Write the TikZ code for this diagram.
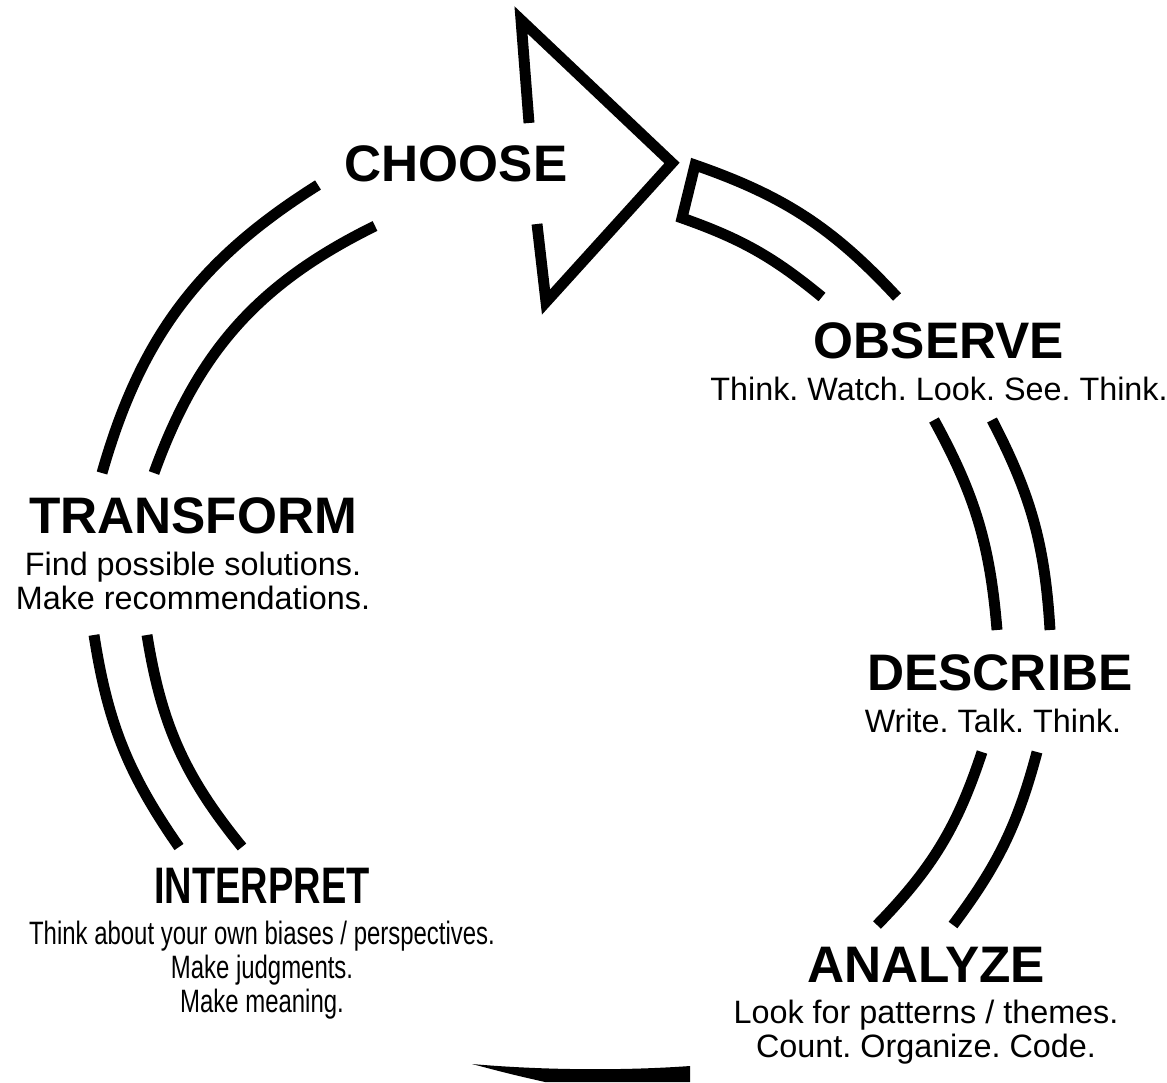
\documentclass[tikz,border=0pt]{standalone}
\usepackage{fontspec}
\setmainfont{Liberation Sans}
\newfontfamily\narrowsf[FakeStretch=0.74]{Liberation Sans}
\usetikzlibrary{positioning}
\frenchspacing

\begin{document}
\begin{tikzpicture}[x=0.01cm, y=0.01cm,
  head/.style={inner sep=0pt, font=\fontsize{14.6}{17}\selectfont\bfseries},
  note/.style={inner sep=0pt, align=center, font=\fontsize{9.2}{8.5}\selectfont},
  ring/.style={line width=3.1pt},
  node distance=0.17cm]
  \useasboundingbox (0,0) rectangle (1167,-1082);

  % Stage titles
  \node[head, anchor=base] (choose) at (456,-182) {CHOOSE};
  \node[head, anchor=base] (observe) at (939,-358) {OBSERVE};
  \node[head, anchor=base] (describe) at (1000,-690) {DESCRIBE};
  \node[head, anchor=base] (analyze) at (926,-982) {ANALYZE};
  \node[head, anchor=base, font=\fontsize{14.6}{17}\narrowsf\bfseries] (interpret) at (262,-903) {INTERPRET};
  \node[head, anchor=base] (transform) at (193,-533) {TRANSFORM};

  % Notes under the titles
  \node[note, below=of observe] (observe-note) {Think. Watch. Look. See. Think.};
  \node[note, below=of describe, xshift=-0.07cm] (describe-note) {Write. Talk. Think.};
  \node[note, below=of analyze] (analyze-note) {Look for patterns / themes.\\ Count. Organize. Code.};
  \node[note, below=of interpret, font=\fontsize{9.2}{8.5}\narrowsf] (interpret-note) {Think about your own biases / perspectives.\\ Make judgments.\\ Make meaning.};
  \node[note, below=of transform] (transform-note) {Find possible solutions.\\ Make recommendations.};

  % Ring, outer and inner lines
  \draw[ring] (318,-185) to[bend right=21] (102,-473);
  \draw[ring] (375,-226) to[bend right=22] (154,-473);
  \draw[ring] (94,-635) to[bend right=13] (179,-847);
  \draw[ring] (147,-635) to[bend right=15] (242,-847);
  \draw[ring] (877,-925) to[bend right=13] (982,-752);
  \draw[ring] (953,-925) to[bend right=11] (1037,-752);
  \draw[ring] (997,-630) to[bend right=12] (934,-420);
  \draw[ring] (1050,-630) to[bend right=12] (992,-420);
  \fill (472,-1064) .. controls (540,-1070) and (620,-1071) .. (690,-1066)
    -- (690,-1082) -- (545,-1082) .. controls (510,-1074) .. (472,-1064) -- cycle;

  % Arrow head and tail
  \draw[ring, line join=miter] (529,-123) -- (521,-20) -- (672,-163) -- (546,-302) -- (537,-224);
  \draw[ring, line join=miter] (822,-297) to[bend right=10] (682,-218) -- (695,-165) to[bend left=14] (897,-297);
\end{tikzpicture}
\end{document}
